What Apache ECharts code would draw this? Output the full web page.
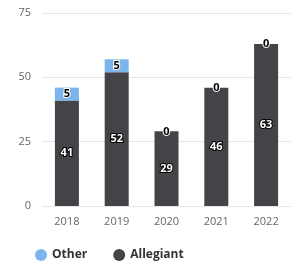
<!DOCTYPE html>
<html>
<head>
<meta charset="utf-8">
<script src="https://cdn.jsdelivr.net/npm/echarts@6/dist/echarts.min.js"></script>
<style>
  html, body { margin: 0; padding: 0; background: #fff; }
  #chart { width: 291px; height: 262px; }
</style>
</head>
<body>
<div id="chart"></div>
<script>
var years = ["2018", "2019", "2020", "2021", "2022"];
var allegiant = [41, 52, 29, 46, 63];
var other = [5, 5, 0, 0, 0];
var yTicks = [0, 25, 50, 75];

var otherColor = "#7cb5ec";
var allegiantColor = "#434348";

var myChart = echarts.init(document.getElementById("chart"));

var option = {
  animation: false,
  textStyle: { fontFamily: "Open Sans" },
  grid: {
    left: 42,
    top: 13,
    width: 252,
    bottom: 56
  },
  legend: {
    data: ["Other", "Allegiant"],
    left: 30,
    bottom: 1,
    padding: [0, 5],
    icon: "circle",
    itemWidth: 12,
    itemHeight: 12,
    itemGap: 26,
    textStyle: { color: "#333", fontSize: 12, fontWeight: "bold", fontFamily: "Open Sans" }
  },
  xAxis: {
    type: "category",
    data: years,
    axisLine: { show: false },
    axisTick: { show: false },
    axisLabel: { color: "#666", fontSize: 11, margin: 10 }
  },
  yAxis: {
    type: "value",
    min: yTicks[0],
    max: yTicks[yTicks.length - 1],
    interval: 25,
    axisLabel: { color: "#666", fontSize: 11, margin: 11 },
    splitLine: { lineStyle: { color: "#e6e6e6" } }
  },
  series: [
    {
      name: "Allegiant",
      type: "bar",
      stack: "total",
      data: allegiant,
      barWidth: 24,
      itemStyle: { color: allegiantColor },
      label: {
        show: true,
        position: "inside",
        color: "#fff",
        fontSize: 11,
        fontWeight: "bold",
        textBorderColor: "#000",
        textBorderWidth: 2
      }
    },
    {
      name: "Other",
      type: "bar",
      stack: "total",
      data: other,
      barWidth: 24,
      itemStyle: { color: otherColor },
      label: {
        show: true,
        position: "inside",
        color: "#000",
        fontSize: 11,
        fontWeight: "bold",
        textBorderColor: "#fff",
        textBorderWidth: 2
      }
    }
  ]
};

myChart.setOption(option);
</script>
</body>
</html>
